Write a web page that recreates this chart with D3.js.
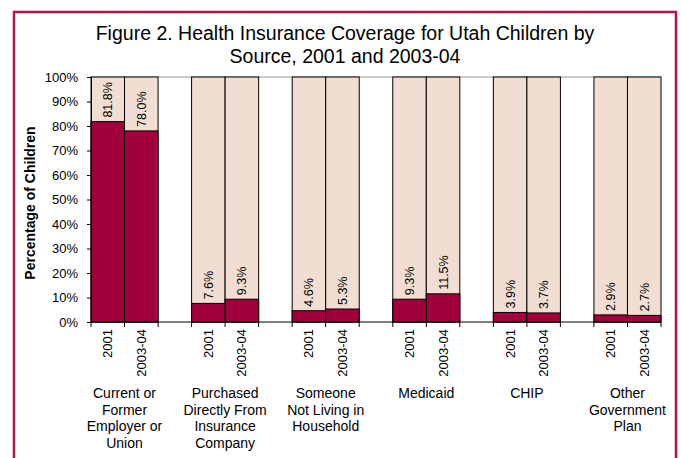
<!DOCTYPE html>
<html>
<head>
<meta charset="utf-8">
<script src="https://cdn.jsdelivr.net/npm/d3@7"></script>
<style>
  html, body { margin: 0; padding: 0; background: #fff; }
  svg { display: block; font-family: Arial, "Liberation Sans", sans-serif; }
</style>
</head>
<body>
<svg id="chart" width="681" height="458"></svg>
<script>
const titleLines = ["Figure 2. Health Insurance Coverage for Utah Children by", "Source, 2001 and 2003-04"];
const categories = ["employer", "purchased", "someone", "medicaid", "chip", "other"];
const categoryLabels = [
  ["Current or", "Former", "Employer or", "Union"],
  ["Purchased", "Directly From", "Insurance", "Company"],
  ["Someone", "Not Living in", "Household"],
  ["Medicaid"],
  ["CHIP"],
  ["Other", "Government", "Plan"]
];
const years = ["2001", "2003-04"];
const values2001 = [81.8, 7.6, 4.6, 9.3, 3.9, 2.9];
const values2003 = [78.0, 9.3, 5.3, 11.5, 3.7, 2.7];
const yTicks = [0, 10, 20, 30, 40, 50, 60, 70, 80, 90, 100];
const yLabel = "Percentage of Children";

(function () {
const svg = d3.select("#chart");
const pLeft = 91, pRight = 661, pTop = 77, pBottom = 322;
const slot = (pRight - pLeft) / 17;

const darkColor = "#a2003a";
const lightColor = "#f1ddd2";
const borderColor = "#ad1747";

// outer border
svg.append("rect")
  .attr("x", 14).attr("y", 12)
  .attr("width", 662).attr("height", 470)
  .attr("fill", "none").attr("stroke", borderColor).attr("stroke-width", 2.5);

// title
svg.append("g").selectAll("text").data(titleLines).join("text")
  .attr("x", 345).attr("y", (d, i) => 40 + i * 23)
  .attr("text-anchor", "middle")
  .attr("font-size", "19.5px").attr("fill", "#000")
  .text(d => d);

const x0 = d3.scaleBand().domain(categories).range([pLeft, pLeft + 18 * slot]).padding(0);
const x1 = d3.scaleBand().domain(years).range([0, 2 * slot]).padding(0);
const y = d3.scaleLinear().domain([0, 100]).range([pBottom, pTop]);

// plot area top border (gray)
svg.append("line")
  .attr("x1", pLeft).attr("x2", pRight).attr("y1", y(100)).attr("y2", y(100))
  .attr("stroke", "#9a9a9a").attr("stroke-width", 1);

const rows = [];
categories.forEach((c, i) => {
  rows.push({cat: c, year: years[0], value: values2001[i]});
  rows.push({cat: c, year: years[1], value: values2003[i]});
});

const bx = d => x0(d.cat) + x1(d.year);
const bw = x1.bandwidth();

// light background bars (100%)
svg.append("g").selectAll("rect").data(rows).join("rect")
  .attr("x", bx).attr("y", y(100))
  .attr("width", bw).attr("height", y(0) - y(100))
  .attr("fill", lightColor).attr("stroke", "#000").attr("stroke-width", 1);

// dark bars
svg.append("g").selectAll("rect").data(rows).join("rect")
  .attr("x", bx).attr("y", d => y(d.value))
  .attr("width", bw).attr("height", d => y(0) - y(d.value))
  .attr("fill", darkColor).attr("stroke", "#000").attr("stroke-width", 1);

// data labels
svg.append("g").selectAll("text").data(rows).join("text")
  .attr("transform", d => `translate(${bx(d) + bw / 2 + 4.5},${y(d.value) - 4}) rotate(-90)`)
  .attr("text-anchor", "start")
  .attr("font-size", "12.5px").attr("fill", "#000")
  .text(d => d.value.toFixed(1) + "%");

// y axis
const yAxis = svg.append("g")
  .attr("transform", `translate(${pLeft},0)`)
  .call(d3.axisLeft(y).tickValues(yTicks).tickFormat(d => d + "%").tickSize(4).tickPadding(9));
yAxis.select(".domain").attr("stroke", "#000");
yAxis.selectAll(".tick line").attr("stroke", "#000");
yAxis.selectAll(".tick text").attr("font-size", "13px").attr("font-family", "Arial, 'Liberation Sans', sans-serif").attr("fill", "#000");

// x axis line
svg.append("line")
  .attr("x1", pLeft).attr("x2", pRight).attr("y1", y(0)).attr("y2", y(0))
  .attr("stroke", "#000").attr("stroke-width", 1);

// x tick marks at bar edges
const edges = [];
rows.forEach(d => { edges.push(bx(d)); edges.push(bx(d) + bw); });
const uniqEdges = Array.from(new Set(edges.map(e => Math.round(e * 10) / 10)));
svg.append("g").selectAll("line").data(uniqEdges).join("line")
  .attr("x1", d => d).attr("x2", d => d)
  .attr("y1", y(0)).attr("y2", y(0) + 5)
  .attr("stroke", "#000").attr("stroke-width", 1);

// year labels (rotated)
svg.append("g").selectAll("text").data(rows).join("text")
  .attr("transform", d => `translate(${bx(d) + bw / 2 + 4.5},${y(0) + 7}) rotate(-90)`)
  .attr("text-anchor", "end")
  .attr("font-size", "13px").attr("fill", "#000")
  .text(d => d.year);

// category labels
const catG = svg.append("g").selectAll("text").data(categories).join("text")
  .attr("text-anchor", "middle")
  .attr("font-size", "14px").attr("fill", "#000");
catG.selectAll("tspan").data((d, i) => categoryLabels[i].map(t => ({t, c: d}))).join("tspan")
  .attr("x", d => x0(d.c) + slot)
  .attr("y", (d, j) => 398 + j * 16.7)
  .text(d => d.t);

// y axis title
svg.append("text")
  .attr("transform", `translate(35,203) rotate(-90)`)
  .attr("text-anchor", "middle")
  .attr("font-size", "14px").attr("font-weight", "bold").attr("fill", "#000")
  .text(yLabel);
})();
</script>
</body>
</html>
